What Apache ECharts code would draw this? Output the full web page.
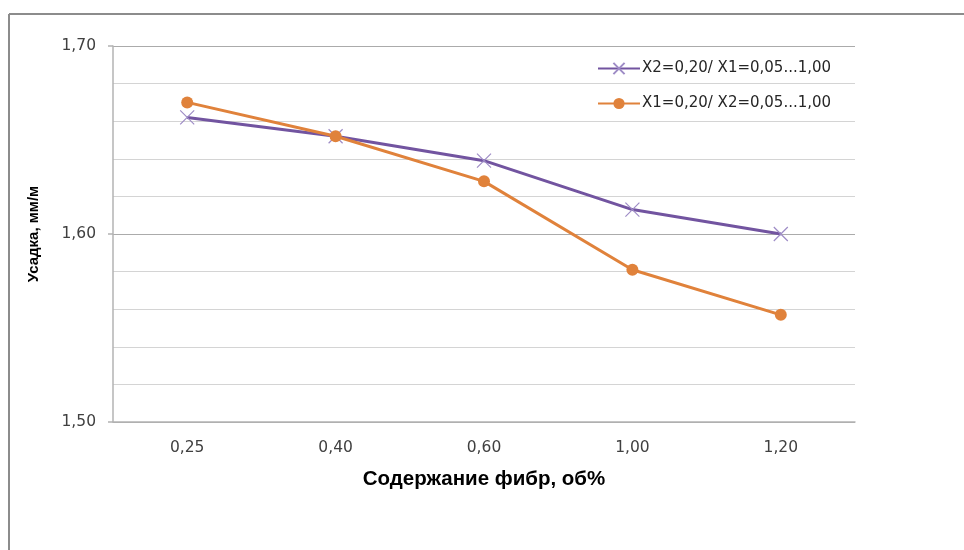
<!DOCTYPE html>
<html>
<head>
<meta charset="utf-8">
<script src="https://cdn.jsdelivr.net/npm/echarts@6/dist/echarts.min.js"></script>
<style>
html,body{margin:0;padding:0;background:#fff;}
#chart{width:964px;height:550px;}
</style>
</head>
<body>
<div id="chart"></div>
<script>
const categories = ['0,25', '0,40', '0,60', '1,00', '1,20'];
const seriesNames = ['X2=0,20/ X1=0,05...1,00', 'X1=0,20/ X2=0,05...1,00'];
const seriesA = [1.662, 1.652, 1.639, 1.613, 1.600];
const seriesB = [1.670, 1.652, 1.628, 1.581, 1.557];
const yTitle = 'Усадка, мм/м';
const xTitle = 'Содержание фибр, об%';

const chart = echarts.init(document.getElementById('chart'));
const labelFont = 'DejaVu Sans';
chart.setOption({
  animation: false,
  backgroundColor: '#ffffff',
  graphic: [
    { type: 'line', shape: { x1: 9, y1: 14, x2: 964, y2: 14 }, style: { stroke: '#8c8c8c', lineWidth: 2 } },
    { type: 'line', shape: { x1: 9, y1: 14, x2: 9, y2: 550 }, style: { stroke: '#8c8c8c', lineWidth: 2 } }
  ],
  grid: { left: 113, right: 109, top: 46, bottom: 128, containLabel: false },
  legend: {
    orient: 'vertical',
    left: 592,
    top: 56,
    itemWidth: 42,
    itemHeight: 14,
    itemGap: 20,
    data: seriesNames,
    textStyle: { fontFamily: labelFont, fontSize: 15, color: '#262626', padding: [0, 0, 0, -3] }
  },
  xAxis: {
    type: 'category',
    data: categories,
    boundaryGap: true,
    axisLine: { show: true, lineStyle: { color: '#b3b3b3', width: 1.5 } },
    axisTick: { show: false },
    axisLabel: { margin: 18, fontFamily: labelFont, fontSize: 15.5, color: '#404040' },
    splitLine: { show: false },
    name: xTitle,
    nameLocation: 'middle',
    nameGap: 47,
    nameTextStyle: { fontFamily: 'Liberation Sans', fontWeight: 'bold', fontSize: 20.5, color: '#000000' }
  },
  yAxis: {
    type: 'value',
    min: 1.5,
    max: 1.7,
    interval: 0.1,
    axisLine: { show: true, lineStyle: { color: '#b3b3b3', width: 1.5 } },
    axisTick: { show: true, length: 5, lineStyle: { color: '#b3b3b3', width: 1.5 } },
    minorTick: { show: false, splitNumber: 5 },
    axisLabel: {
      margin: 17, fontFamily: labelFont, fontSize: 15.5, color: '#404040',
      formatter: v => v.toFixed(2).replace('.', ',')
    },
    splitLine: { show: true, lineStyle: { color: '#ababab', width: 1.2 } },
    minorSplitLine: { show: true, lineStyle: { color: '#d4d4d4', width: 1.2 } },
    name: yTitle,
    nameLocation: 'middle',
    nameRotate: 90,
    nameGap: 72,
    nameTextStyle: { fontFamily: 'Liberation Sans', fontWeight: 'bold', fontSize: 15, color: '#000000' }
  },
  series: [
    {
      name: seriesNames[0],
      type: 'line',
      data: seriesA,
      symbol: 'path://M0,0L10,10M10,0L0,10',
      symbolSize: 14,
      showSymbol: true,
      lineStyle: { color: '#7254a0', width: 3 },
      itemStyle: { color: 'rgba(0,0,0,0)', borderColor: '#9e8cc6', borderWidth: 1.2 },
      z: 3
    },
    {
      name: seriesNames[1],
      type: 'line',
      data: seriesB,
      symbol: 'circle',
      symbolSize: 12,
      showSymbol: true,
      lineStyle: { color: '#e0823b', width: 3 },
      itemStyle: { color: '#e0823b', borderWidth: 0 },
      z: 4
    }
  ]
});
</script>
</body>
</html>
